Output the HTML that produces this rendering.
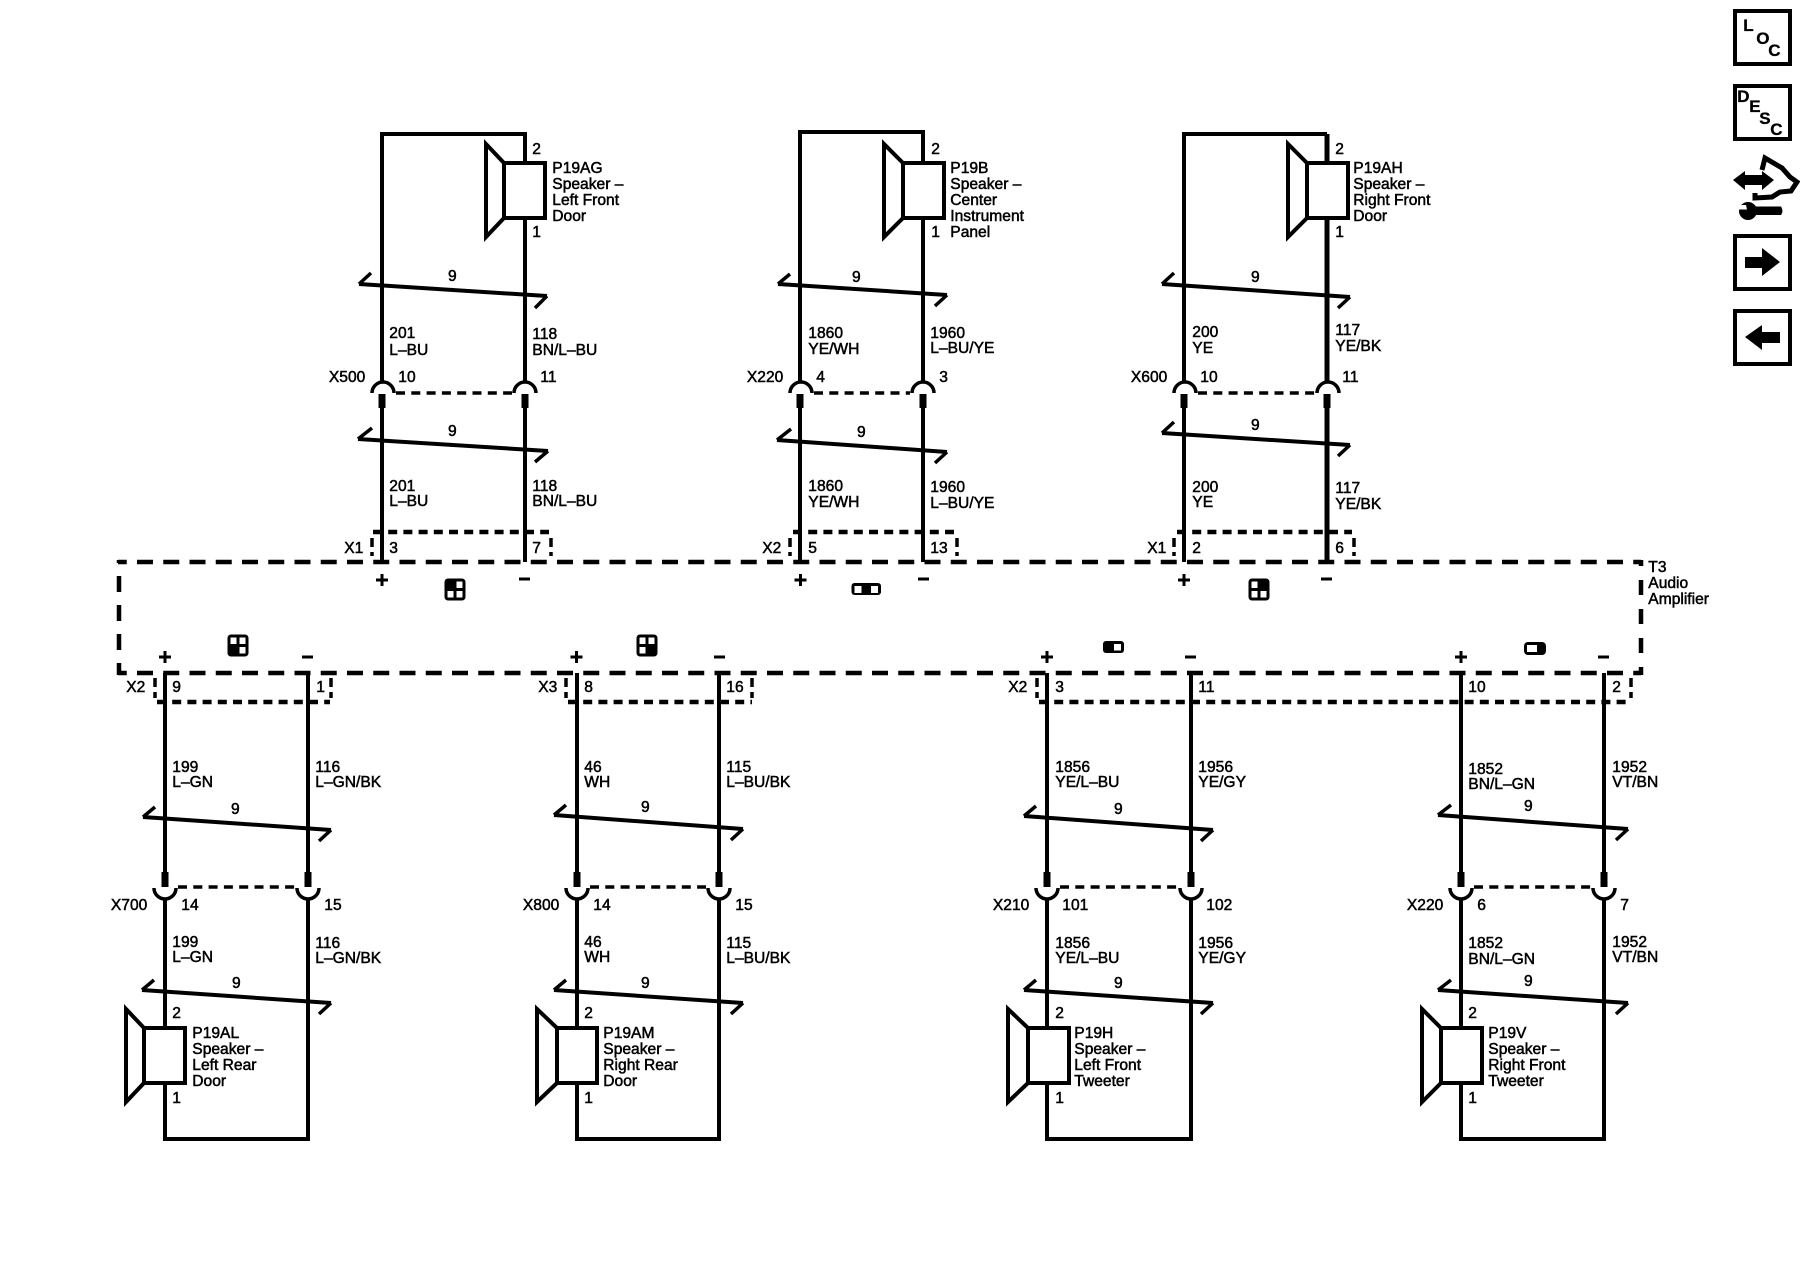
<!DOCTYPE html>
<html><head><meta charset="utf-8"><title>Audio Amplifier Wiring Diagram</title>
<style>
html,body{margin:0;padding:0;background:#fff;width:1800px;height:1280px;overflow:hidden}
svg{display:block}
text{font-family:"Liberation Sans",Arial,sans-serif;font-size:15.6px;fill:#000;stroke:#000;stroke-width:.5px;transform:translate(-.7px,0)}
.e{text-anchor:end}.m{text-anchor:middle}
.w{fill:none;stroke:#000;stroke-width:4}
.arc{fill:none;stroke:#000;stroke-width:3.5}
.bus{fill:none;stroke:#000;stroke-width:4}
.t{fill:none;stroke:#000;stroke-width:3.5}
.g{fill:none;stroke:#000;stroke-width:3}
.d{fill:none;stroke:#000;stroke-width:3.5;stroke-dasharray:9 6.3}
.c{fill:none;stroke:#000;stroke-width:4.5;stroke-dasharray:9 6.2}
.v{fill:none;stroke:#000;stroke-width:3.5;stroke-dasharray:9 5}
.a{fill:none;stroke:#000;stroke-width:4.5;stroke-dasharray:16 10.25;stroke-dashoffset:7.25}
.s{fill:none;stroke:#000;stroke-width:4;stroke-linejoin:miter}
.k{fill:#000;stroke:none}
.b{fill:none;stroke:#000;stroke-width:4}
.big{font-size:17px;font-weight:bold;stroke-width:.3px}
</style></head><body>
<svg width="1800" height="1280" viewBox="0 0 1800 1280" xmlns="http://www.w3.org/2000/svg">
<rect width="1800" height="1280" fill="#fff"/>

<!-- Amplifier box -->
<path class="a" d="M118 562H1641"/>
<path class="a" d="M118 673H1641"/>
<path class="a" style="stroke-dasharray:15 14;stroke-dashoffset:9" d="M1641 560V675"/>
<path class="a" style="stroke-dasharray:16 13;stroke-dashoffset:13" d="M119 560V675"/>
<text x="1649" y="572">T3</text><text x="1649" y="588">Audio</text><text x="1649" y="604">Amplifier</text>

<!-- ===== Group A: P19AG ===== -->
<path class="w" d="M382 382V134H525V163M525 218V382M382 408V562M525 408V562"/>
<g transform="translate(504,163)"><path class="s" d="M0 0H41V55H0ZM0 0L-18 -19V74L0 55"/></g>
<text x="533" y="154">2</text><text x="533" y="237">1</text>
<text x="553" y="173">P19AG</text><text x="553" y="189">Speaker –</text><text x="553" y="205">Left Front</text><text x="553" y="221">Door</text>
<path class="bus" d="M359 284L547 296"/><path class="t" d="M371 273L359 284M547 296L535 308"/>
<text class="m" x="453" y="281">9</text>
<text x="390" y="338">201</text><text x="390" y="355">L–BU</text>
<text x="533" y="339">118</text><text x="533" y="355">BN/L–BU</text>
<text class="e" x="366" y="382">X500</text><text x="399" y="382">10</text><text x="541" y="382">11</text>
<path class="arc" d="M372 393A11 11 0 0 1 394 393M514 393A11 11 0 0 1 536 393"/>
<path class="d" d="M396 393H512"/>
<path class="k" d="M378.500 394h7v14h-7zM521.500 394h7v14h-7z"/>
<path class="bus" d="M358 439L548 451"/><path class="t" d="M372 428L358 439M548 451L535 462"/>
<text class="m" x="453" y="436">9</text>
<text x="390" y="491">201</text><text x="390" y="506">L–BU</text>
<text x="533" y="491">118</text><text x="533" y="506">BN/L–BU</text>
<path class="c" d="M373 532H549"/><path class="v" d="M372 538V556M551 538V556"/>
<text class="e" x="364" y="553">X1</text><text x="390" y="553">3</text><text x="533" y="553">7</text>
<path class="k" d="M380.500 574h3v4.500h4.500v3h-4.500v4.500h-3v-4.500h-4.500v-3h4.500zM519 577.500h11v3h-11z"/>
<g transform="translate(446,580)"><rect class="g" x="0" y="0" width="18" height="19" rx="2"/><path class="g" d="M9 0V19M0 9.500H18"/><rect class="k" x="0" y="0" width="9" height="9.500"/></g>

<!-- ===== Group B: P19B ===== -->
<path class="w" d="M800 382V132H923V163M923 218V382M800 408V562M923 408V562"/>
<g transform="translate(903,163)"><path class="s" d="M0 0H41V55H0ZM0 0L-19 -19V74L0 55"/></g>
<text x="932" y="154">2</text><text x="932" y="237">1</text>
<text x="951" y="173">P19B</text><text x="951" y="189">Speaker –</text><text x="951" y="205">Center</text><text x="951" y="221">Instrument</text><text x="951" y="237">Panel</text>
<path class="bus" d="M778 284L947 295"/><path class="t" d="M790 274L778 284M947 295L935 306"/>
<text class="m" x="857" y="282">9</text>
<text x="809" y="338">1860</text><text x="809" y="354">YE/WH</text>
<text x="931" y="338">1960</text><text x="931" y="353">L–BU/YE</text>
<text class="e" x="784" y="382">X220</text><text x="817" y="382">4</text><text x="940" y="382">3</text>
<path class="arc" d="M790 393A11 11 0 0 1 812 393M912 393A11 11 0 0 1 934 393"/>
<path class="d" d="M814 393H910"/>
<path class="k" d="M796.500 394h7v14h-7zM919.500 394h7v14h-7z"/>
<path class="bus" d="M777 440L947 452"/><path class="t" d="M791 429L777 440M947 452L935 463"/>
<text class="m" x="862" y="437">9</text>
<text x="809" y="491">1860</text><text x="809" y="507">YE/WH</text>
<text x="931" y="492">1960</text><text x="931" y="508">L–BU/YE</text>
<path class="c" d="M793 532H954"/><path class="v" d="M790 538V556M957 538V556"/>
<text class="e" x="782" y="553">X2</text><text x="809" y="553">5</text><text x="931" y="553">13</text>
<path class="k" d="M799 574h3v4.500h4.500v3h-4.500v4.500h-3v-4.500h-4.500v-3h4.500zM918 577.500h11v3h-11z"/>
<g transform="translate(851.500,583)"><rect class="k" x="0" y="0" width="29.500" height="12" rx="3"/><rect x="3" y="3" width="7" height="7" fill="#fff"/><rect x="19.500" y="3" width="7" height="7" fill="#fff"/></g>

<!-- ===== Group C: P19AH ===== -->
<path class="w" d="M1184 382V134H1327"/>
<path class="w" style="stroke-width:5" d="M1327 134V163M1327 218V382M1327 408V562"/>
<path class="w" d="M1184 408V562"/>
<g transform="translate(1307,163)"><path class="s" d="M0 0H41V55H0ZM0 0L-19 -19V74L0 55"/></g>
<text x="1336" y="154">2</text><text x="1336" y="237">1</text>
<text x="1354" y="173">P19AH</text><text x="1354" y="189">Speaker –</text><text x="1354" y="205">Right Front</text><text x="1354" y="221">Door</text>
<path class="bus" d="M1162 284L1350 297"/><path class="t" d="M1174 273L1162 284M1350 297L1338 308"/>
<text class="m" x="1256" y="282">9</text>
<text x="1193" y="337">200</text><text x="1193" y="353">YE</text>
<text x="1336" y="335">117</text><text x="1336" y="351">YE/BK</text>
<text class="e" x="1168" y="382">X600</text><text x="1201" y="382">10</text><text x="1343" y="382">11</text>
<path class="arc" d="M1174 393A11 11 0 0 1 1196 393M1317 393A11 11 0 0 1 1339 393"/>
<path class="d" d="M1198 393H1315"/>
<path class="k" d="M1180.500 394h7v14h-7zM1323.500 394h7v14h-7z"/>
<path class="bus" d="M1162 433L1350 445"/><path class="t" d="M1174 422L1162 433M1350 445L1338 456"/>
<text class="m" x="1256" y="430">9</text>
<text x="1193" y="492">200</text><text x="1193" y="507">YE</text>
<text x="1336" y="493">117</text><text x="1336" y="509">YE/BK</text>
<path class="c" d="M1177 532H1352"/><path class="v" d="M1174 538V556M1354 538V556"/>
<text class="e" x="1167" y="553">X1</text><text x="1193" y="553">2</text><text x="1336" y="553">6</text>
<path class="k" d="M1182.500 574h3v4.500h4.500v3h-4.500v4.500h-3v-4.500h-4.500v-3h4.500zM1321 577.500h11v3h-11z"/>
<g transform="translate(1250,580)"><rect class="g" x="0" y="0" width="18" height="19" rx="2"/><path class="g" d="M9 0V19M0 9.500H18"/><rect class="k" x="9" y="0" width="9" height="9.500"/></g>

<!-- ===== Group D: P19AL ===== -->
<path class="w" d="M165 673V887M308 673V887M165 898V1028M165 1083V1139H308V898"/>
<path class="c" d="M157 702H330"/><path class="v" d="M155 678V698M331 678V698"/>
<text class="e" x="146" y="692">X2</text><text x="173" y="692">9</text><text x="317" y="692">1</text>
<path class="k" d="M163.500 651h3v4.500h4.500v3h-4.500v4.500h-3v-4.500h-4.500v-3h4.500zM302 655.500h11v3h-11z"/>
<g transform="translate(229,636)"><rect class="g" x="0" y="0" width="18" height="19" rx="2"/><path class="g" d="M9 0V19M0 9.500H18"/><rect class="k" x="0" y="9.500" width="9" height="9.500"/></g>
<text x="173" y="772">199</text><text x="173" y="787">L–GN</text>
<text x="316" y="772">116</text><text x="316" y="787">L–GN/BK</text>
<path class="bus" d="M143 817L331 830"/><path class="t" d="M155 807L143 817M331 830L319 841"/>
<text class="m" x="236" y="814">9</text>
<path class="k" d="M161.500 872h7v15h-7zM304.500 872h7v15h-7z"/>
<path class="arc" d="M154 888A11 11 0 0 0 176 888M297 888A11 11 0 0 0 319 888"/>
<path class="d" d="M178 887H295"/>
<text class="e" x="148" y="910">X700</text><text x="182" y="910">14</text><text x="325" y="910">15</text>
<text x="173" y="947">199</text><text x="173" y="962">L–GN</text>
<text x="316" y="948">116</text><text x="316" y="963">L–GN/BK</text>
<path class="bus" d="M142 990L331 1003"/><path class="t" d="M154 980L142 990M331 1003L319 1014"/>
<text class="m" x="237" y="988">9</text>
<text x="173" y="1018">2</text><text x="173" y="1103">1</text>
<g transform="translate(144,1028)"><path class="s" d="M0 0H41V55H0ZM0 0L-18 -19V74L0 55"/></g>
<text x="193" y="1038">P19AL</text><text x="193" y="1054">Speaker –</text><text x="193" y="1070">Left Rear</text><text x="193" y="1086">Door</text>

<!-- ===== Group E: P19AM ===== -->
<path class="w" d="M577 673V887M719 673V887M577 898V1028M577 1083V1139H719V898"/>
<path class="c" d="M568 702H752"/><path class="v" d="M566 678V698M752 678V698"/>
<text class="e" x="558" y="692">X3</text><text x="585" y="692">8</text><text x="727" y="692">16</text>
<path class="k" d="M575 651h3v4.500h4.500v3h-4.500v4.500h-3v-4.500h-4.500v-3h4.500zM714 655.500h11v3h-11z"/>
<g transform="translate(638,636)"><rect class="g" x="0" y="0" width="18" height="19" rx="2"/><path class="g" d="M9 0V19M0 9.500H18"/><rect class="k" x="9" y="9.500" width="9" height="9.500"/></g>
<text x="585" y="772">46</text><text x="585" y="787">WH</text>
<text x="727" y="772">115</text><text x="727" y="787">L–BU/BK</text>
<path class="bus" d="M554 815L743 829"/><path class="t" d="M566 805L554 815M743 829L731 840"/>
<text class="m" x="646" y="812">9</text>
<path class="k" d="M573.500 872h7v15h-7zM715.500 872h7v15h-7z"/>
<path class="arc" d="M566 888A11 11 0 0 0 588 888M708 888A11 11 0 0 0 730 888"/>
<path class="d" d="M590 887H706"/>
<text class="e" x="560" y="910">X800</text><text x="594" y="910">14</text><text x="736" y="910">15</text>
<text x="585" y="947">46</text><text x="585" y="962">WH</text>
<text x="727" y="948">115</text><text x="727" y="963">L–BU/BK</text>
<path class="bus" d="M554 990L743 1003"/><path class="t" d="M566 980L554 990M743 1003L731 1014"/>
<text class="m" x="646" y="988">9</text>
<text x="585" y="1018">2</text><text x="585" y="1103">1</text>
<g transform="translate(557,1028)"><path class="s" d="M0 0H40V55H0ZM0 0L-20 -19V74L0 55"/></g>
<text x="604" y="1038">P19AM</text><text x="604" y="1054">Speaker –</text><text x="604" y="1070">Right Rear</text><text x="604" y="1086">Door</text>

<!-- ===== Group F: P19H ===== -->
<path class="w" d="M1047 673V887M1191 673V887M1047 898V1028M1047 1083V1139H1191V898"/>
<path class="c" d="M1039 702H1630"/><path class="v" d="M1037 678V698M1631 678V698"/>
<text class="e" x="1028" y="692">X2</text><text x="1056" y="692">3</text><text x="1199" y="692">11</text>
<path class="k" d="M1045.500 651h3v4.500h4.500v3h-4.500v4.500h-3v-4.500h-4.500v-3h4.500zM1185 655.500h11v3h-11z"/>
<g transform="translate(1103,641)"><rect class="k" x="0" y="0" width="21" height="12" rx="3"/><rect x="11" y="3" width="7" height="6.500" fill="#fff"/></g>
<text x="1056" y="772">1856</text><text x="1056" y="787">YE/L–BU</text>
<text x="1199" y="772">1956</text><text x="1199" y="787">YE/GY</text>
<path class="bus" d="M1024 816L1213 830"/><path class="t" d="M1036 806L1024 816M1213 830L1201 841"/>
<text class="m" x="1119" y="814">9</text>
<path class="k" d="M1043.500 872h7v15h-7zM1187.500 872h7v15h-7z"/>
<path class="arc" d="M1036 888A11 11 0 0 0 1058 888M1180 888A11 11 0 0 0 1202 888"/>
<path class="d" d="M1060 887H1178"/>
<text class="e" x="1030" y="910">X210</text><text x="1063" y="910">101</text><text x="1207" y="910">102</text>
<text x="1056" y="948">1856</text><text x="1056" y="963">YE/L–BU</text>
<text x="1199" y="948">1956</text><text x="1199" y="963">YE/GY</text>
<path class="bus" d="M1024 990L1213 1003"/><path class="t" d="M1036 980L1024 990M1213 1003L1201 1014"/>
<text class="m" x="1119" y="988">9</text>
<text x="1056" y="1018">2</text><text x="1056" y="1103">1</text>
<g transform="translate(1028,1028)"><path class="s" d="M0 0H41V55H0ZM0 0L-20 -19V74L0 55"/></g>
<text x="1075" y="1038">P19H</text><text x="1075" y="1054">Speaker –</text><text x="1075" y="1070">Left Front</text><text x="1075" y="1086">Tweeter</text>

<!-- ===== Group G: P19V ===== -->
<path class="w" d="M1461 673V887M1604 673V887M1461 898V1028M1461 1083V1139H1604V898"/>
<text x="1469" y="692">10</text><text x="1613" y="692">2</text>
<path class="k" d="M1459.500 651h3v4.500h4.500v3h-4.500v4.500h-3v-4.500h-4.500v-3h4.500zM1598 655.500h11v3h-11z"/>
<g transform="translate(1524,642)"><rect class="k" x="0" y="0" width="22" height="13" rx="4"/><rect x="3" y="3" width="10" height="7" fill="#fff"/></g>
<text x="1469" y="774">1852</text><text x="1469" y="789">BN/L–GN</text>
<text x="1613" y="772">1952</text><text x="1613" y="787">VT/BN</text>
<path class="bus" d="M1438 815L1628 829"/><path class="t" d="M1451 805L1438 815M1628 829L1616 840"/>
<text class="m" x="1529" y="811">9</text>
<path class="k" d="M1457.500 872h7v15h-7zM1600.500 872h7v15h-7z"/>
<path class="arc" d="M1450 888A11 11 0 0 0 1472 888M1593 888A11 11 0 0 0 1615 888"/>
<path class="d" d="M1474 887H1591"/>
<text class="e" x="1444" y="910">X220</text><text x="1478" y="910">6</text><text x="1621" y="910">7</text>
<text x="1469" y="948">1852</text><text x="1469" y="964">BN/L–GN</text>
<text x="1613" y="947">1952</text><text x="1613" y="962">VT/BN</text>
<path class="bus" d="M1438 990L1628 1003"/><path class="t" d="M1451 980L1438 990M1628 1003L1616 1014"/>
<text class="m" x="1529" y="986">9</text>
<text x="1469" y="1018">2</text><text x="1469" y="1103">1</text>
<g transform="translate(1441,1028)"><path class="s" d="M0 0H41V55H0ZM0 0L-19 -19V74L0 55"/></g>
<text x="1489" y="1038">P19V</text><text x="1489" y="1054">Speaker –</text><text x="1489" y="1070">Right Front</text><text x="1489" y="1086">Tweeter</text>

<!-- ===== Side icons ===== -->
<rect class="b" x="1735" y="11" width="55" height="53"/>
<text class="big" x="1744" y="31">L</text><text class="big" x="1757" y="44">O</text><text class="big" x="1769" y="56">C</text>
<rect class="b" x="1735" y="86" width="55" height="53"/>
<text class="big" x="1738" y="102">D</text><text class="big" x="1750" y="112">E</text><text class="big" x="1760" y="124">S</text><text class="big" x="1771" y="135">C</text>
<path class="k" d="M1733 180L1745 171V175H1762V171L1774 180L1762 190V185H1745V190Z"/>
<path fill="none" stroke="#000" stroke-width="5" d="M1755 193V198L1772 197L1780 192L1791 191L1797 182L1790 177L1782 168L1765 158L1762 170"/>
<circle class="k" cx="1748" cy="211" r="9"/>
<path class="k" d="M1750 206.500H1781Q1784 211 1781 215H1750Z"/>
<path d="M1737 205H1746L1747 209.500H1737Z" fill="#fff"/>
<rect class="b" x="1735" y="236" width="55" height="53"/>
<path class="k" d="M1745 257H1762V248L1780 262L1762 276V268H1745Z"/>
<rect class="b" x="1735" y="311" width="55" height="53"/>
<path class="k" d="M1745 337L1762 325V332H1780V343H1762V350Z"/>
</svg>
</body></html>
